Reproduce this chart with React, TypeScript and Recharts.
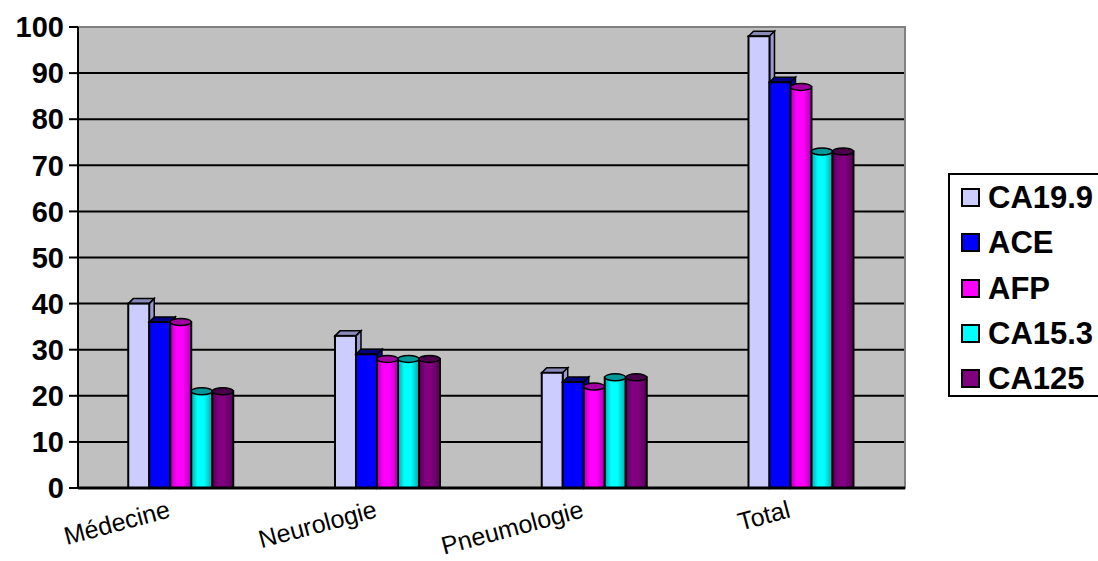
import { Bar, BarChart, CartesianGrid, ReferenceArea, XAxis, YAxis } from 'recharts'

const categories = ['Médecine', 'Neurologie', 'Pneumologie', 'Total']
const seriesNames = ['CA19.9', 'ACE', 'AFP', 'CA15.3', 'CA125']
const ca199 = [40, 33, 25, 98]
const ace = [36, 29, 23, 88]
const afp = [36, 28, 22, 87]
const ca153 = [21, 28, 24, 73]
const ca125 = [21, 28, 24, 73]
const yTicks = [0, 10, 20, 30, 40, 50, 60, 70, 80, 90, 100]
const gridValues = [10, 20, 30, 40, 50, 60, 70, 80, 90]

const font = 'Arial, "Liberation Sans", sans-serif'

// front / top / side colours per series
const styles = [
  { key: 'ca199', kind: 'box', front: '#ccccff', top: '#8a8ab8', side: '#9999cc', legend: '#ccccff' },
  { key: 'ace', kind: 'box', front: '#0000ff', top: '#000080', side: '#0000a0', legend: '#0000ff' },
  { key: 'afp', kind: 'cyl', front: '#ff00ff', top: '#a000a0', side: '#b000b0', legend: '#ff00ff' },
  { key: 'ca153', kind: 'cyl', front: '#00ffff', top: '#009999', side: '#00aaaa', legend: '#00ffff' },
  { key: 'ca125', kind: 'cyl', front: '#800080', top: '#4a004a', side: '#550055', legend: '#800080' },
]

const data = categories.map((name, i) => ({
  name,
  ca199: ca199[i],
  ace: ace[i],
  afp: afp[i],
  ca153: ca153[i],
  ca125: ca125[i],
}))

const makeShape = (idx: number) => (props: any) => {
  const { x, y, width, height } = props
  const s = styles[idx]
  if (s.kind === 'box') {
    const d = 5
    return (
      <g>
        <polygon
          points={`${x},${y} ${x + d},${y - d} ${x + width + d},${y - d} ${x + width},${y}`}
          fill={s.top}
          stroke="#000"
          strokeWidth={1.5}
        />
        <polygon
          points={`${x + width},${y} ${x + width + d},${y - d} ${x + width + d},${y + height - d} ${x + width},${y + height}`}
          fill={s.side}
          stroke="#000"
          strokeWidth={1.5}
        />
        <rect x={x} y={y} width={width} height={height} fill={s.front} stroke="#000" strokeWidth={2} />
      </g>
    )
  }
  const gid = `cyl-${s.key}`
  return (
    <g>
      <defs>
        <linearGradient id={gid} x1="0" y1="0" x2="1" y2="0">
          <stop offset="0%" stopColor={s.side} />
          <stop offset="30%" stopColor={s.front} />
          <stop offset="60%" stopColor={s.front} />
          <stop offset="100%" stopColor={s.side} />
        </linearGradient>
      </defs>
      <rect x={x} y={y} width={width} height={height} fill={`url(#${gid})`} stroke="#000" strokeWidth={2} />
      <ellipse cx={x + width / 2} cy={y} rx={width / 2} ry={3.5} fill={s.top} stroke="#000" strokeWidth={1.5} />
    </g>
  )
}

const CategoryTick = (props: any) => {
  const { x, payload } = props
  return (
    <text
      transform={`translate(${x - 10}, 517) rotate(-15)`}
      textAnchor="end"
      fontFamily={font}
      fontSize={25}
      fill="#000"
    >
      {payload.value}
    </text>
  )
}

const LegendBox = () => (
  <div
    style={{
      position: 'absolute',
      left: 948,
      top: 173,
      width: 170,
      height: 224,
      border: '2px solid #000',
      background: '#fff',
      boxSizing: 'border-box',
      paddingTop: 0,
    }}
  >
    {seriesNames.map((name, i) => (
      <div key={name} style={{ display: 'flex', alignItems: 'center', height: 45.3 }}>
        <span
          style={{
            display: 'inline-block',
            width: 19,
            height: 19,
            marginLeft: 11,
            marginRight: 8,
            background: styles[i].legend,
            border: '2px solid #000',
            boxSizing: 'border-box',
          }}
        />
        <span style={{ fontFamily: font, fontWeight: 700, fontSize: 31, color: '#000', lineHeight: 1 }}>{name}</span>
      </div>
    ))}
  </div>
)

export default function App() {
  return (
    <div
      style={{
        position: 'absolute',
        left: 0,
        top: 0,
        width: 1098,
        height: 561,
        overflow: 'hidden',
        background: '#fff',
      }}
    >
      <BarChart
        width={1098}
        height={561}
        data={data}
        margin={{ top: 27, right: 193, bottom: 0, left: 0 }}
        barCategoryGap="24.3%"
        barGap={0}
      >
        <CartesianGrid
          vertical={false}
          horizontalValues={gridValues}
          stroke="#000"
          strokeWidth={2}
          fill="#c0c0c0"
          fillOpacity={1}
        />
        <ReferenceArea y1={0} y2={100} fill="none" stroke="#808080" strokeWidth={2} />
        <XAxis
          dataKey="name"
          height={73}
          tickLine={false}
          axisLine={{ stroke: '#000', strokeWidth: 3 }}
          tick={<CategoryTick />}
          interval={0}
        />
        <YAxis
          width={78}
          domain={[0, 100]}
          ticks={yTicks}
          tickSize={9}
          tickMargin={5}
          axisLine={{ stroke: '#000', strokeWidth: 2 }}
          tickLine={{ stroke: '#000', strokeWidth: 2 }}
          tick={{ fill: '#000', fontSize: 29, fontWeight: 700, fontFamily: font }}
        />
        {styles.map((s, i) => (
          <Bar
            key={s.key}
            dataKey={s.key}
            name={seriesNames[i]}
            fill={s.front}
            shape={makeShape(i)}
            isAnimationActive={false}
          />
        ))}
      </BarChart>
      <LegendBox />
    </div>
  )
}
